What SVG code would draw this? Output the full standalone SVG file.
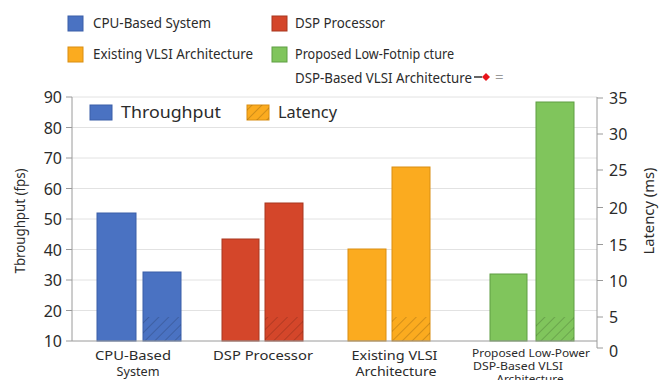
<svg xmlns="http://www.w3.org/2000/svg" width="666" height="380" viewBox="0 0 666 380">
<defs>
<style>
text{font-family:"Noto Sans","Open Sans","DejaVu Sans",sans-serif;fill:#2b2b2b}
.leg{font-size:15px}
.tick{font-size:16px}
.xl{font-size:13px}
.xs{font-size:10.5px}
.grid{stroke:#e2e2e2;stroke-width:1}
.ax{stroke:#9a9a9a;stroke-width:1;fill:none}
.blue{fill:#4a72c2;stroke:#3a5ea8}
.red{fill:#d4462a;stroke:#a8361f}
.orange{fill:#fbab1f;stroke:#d98e12}
.green{fill:#80c55c;stroke:#5f9e42}
</style>
<pattern id="hatch" width="7" height="7" patternUnits="userSpaceOnUse" patternTransform="rotate(45)">
<line x1="0" y1="0" x2="0" y2="7" stroke="#000" stroke-opacity="0.22" stroke-width="1.5"/>
</pattern>
</defs>
<rect width="666" height="380" fill="#fff"/>

<g id="legend-top">
<rect x="68" y="16" width="15" height="15" class="blue"/>
<text x="93" y="28" class="leg" textLength="118" lengthAdjust="spacingAndGlyphs">CPU-Based System</text>
<rect x="272" y="16" width="15" height="15" class="red"/>
<text x="295" y="28" class="leg" textLength="90" lengthAdjust="spacingAndGlyphs">DSP Processor</text>
<rect x="68" y="47" width="15" height="15" class="orange"/>
<text x="93" y="59" class="leg" textLength="160" lengthAdjust="spacingAndGlyphs">Existing VLSI Architecture</text>
<rect x="272" y="47" width="15" height="15" class="green"/>
<text x="295" y="59" class="leg" textLength="159" lengthAdjust="spacingAndGlyphs">Proposed Low-Fotnip cture</text>
<text x="295" y="83" class="leg" textLength="177" lengthAdjust="spacingAndGlyphs">DSP-Based VLSI Architecture</text>
<line x1="474" y1="77" x2="482" y2="77" stroke="#333" stroke-width="1.5"/>
<polygon points="486,73 490,77 486,81 482,77" fill="#e8141a"/>
<text x="495" y="82" class="leg" style="fill:#999">=</text>
</g>

<g id="grid">
<line x1="72" y1="97" x2="597" y2="97" class="grid"/>
<line x1="72" y1="127.5" x2="597" y2="127.5" class="grid"/>
<line x1="72" y1="158" x2="597" y2="158" class="grid"/>
<line x1="72" y1="188.5" x2="597" y2="188.5" class="grid"/>
<line x1="72" y1="219" x2="597" y2="219" class="grid"/>
<line x1="72" y1="249.5" x2="597" y2="249.5" class="grid"/>
<line x1="72" y1="280" x2="597" y2="280" class="grid"/>
<line x1="72" y1="310.5" x2="597" y2="310.5" class="grid"/>
</g>

<g id="bars">
<rect x="97" y="213" width="39" height="128" class="blue"/>
<rect x="143" y="272" width="38" height="69" class="blue"/>
<rect x="143" y="317" width="38" height="24" fill="url(#hatch)"/>
<rect x="222" y="239" width="37" height="102" class="red"/>
<rect x="265" y="203" width="38" height="138" class="red"/>
<rect x="265" y="317" width="38" height="24" fill="url(#hatch)"/>
<rect x="348" y="249" width="38" height="92" class="orange"/>
<rect x="392" y="167" width="38" height="174" class="orange"/>
<rect x="392" y="317" width="38" height="24" fill="url(#hatch)"/>
<rect x="490" y="274" width="37" height="67" class="green"/>
<rect x="536" y="102" width="38" height="239" class="green"/>
<rect x="536" y="317" width="38" height="24" fill="url(#hatch)"/>
</g>

<g id="axes">
<line x1="72" y1="97" x2="72" y2="341" class="ax"/>
<line x1="72" y1="341" x2="597" y2="341" class="ax"/>
<path d="M597 97 V348 H603" class="ax"/>
<path d="M66 97H72M66 127.5H72M66 158H72M66 188.5H72M66 219H72M66 249.5H72M66 280H72M66 310.5H72M66 341H72" class="ax"/>
<path d="M597 98H603M597 134H603M597 170H603M597 207.5H603M597 244.5H603M597 280.5H603M597 317H603" class="ax"/>
</g>

<g id="left-ticks" class="tick" text-anchor="end">
<text x="62" y="103">90</text>
<text x="62" y="133.5">80</text>
<text x="62" y="164">70</text>
<text x="62" y="194.5">60</text>
<text x="62" y="225">50</text>
<text x="62" y="255.5">40</text>
<text x="62" y="286">30</text>
<text x="62" y="316.5">20</text>
<text x="62" y="347">10</text>
</g>

<g id="right-ticks" class="tick">
<text x="609" y="104">35</text>
<text x="609" y="140">30</text>
<text x="609" y="176">25</text>
<text x="609" y="213.5">20</text>
<text x="609" y="250.5">15</text>
<text x="609" y="286.5">10</text>
<text x="609" y="323">5</text>
<text x="609" y="357">0</text>
</g>

<text transform="translate(25,221) rotate(-90)" text-anchor="middle" class="leg" textLength="105" lengthAdjust="spacingAndGlyphs">Tbroughput (fps)</text>
<text transform="translate(654,211) rotate(-90)" text-anchor="middle" class="leg" textLength="87" lengthAdjust="spacingAndGlyphs">Latency (ms)</text>

<g id="inner-legend">
<rect x="90" y="105" width="22" height="15" class="blue"/>
<text x="121" y="118" style="font-size:16px" textLength="100" lengthAdjust="spacingAndGlyphs">Throughput</text>
<rect x="247" y="105" width="22" height="15" class="orange"/>
<rect x="247" y="105" width="22" height="15" fill="url(#hatch)"/>
<text x="278" y="118" style="font-size:16px" textLength="59" lengthAdjust="spacingAndGlyphs">Latency</text>
</g>

<g id="x-labels" text-anchor="middle">
<text x="133" y="360" class="xl" textLength="76" lengthAdjust="spacingAndGlyphs">CPU-Based</text>
<text x="138" y="376" class="xl" textLength="43" lengthAdjust="spacingAndGlyphs">System</text>
<text x="263" y="360" class="xl" textLength="100" lengthAdjust="spacingAndGlyphs">DSP Processor</text>
<text x="394.5" y="360" class="xl" textLength="86" lengthAdjust="spacingAndGlyphs">Existing VLSI</text>
<text x="396" y="376" class="xl" textLength="81" lengthAdjust="spacingAndGlyphs">Architecture</text>
<text x="531" y="357" class="xs" textLength="118" lengthAdjust="spacingAndGlyphs">Proposed Low-Power</text>
<text x="518" y="370" class="xs" textLength="90" lengthAdjust="spacingAndGlyphs">DSP-Based VLSI</text>
<text x="530" y="383" class="xs" textLength="67" lengthAdjust="spacingAndGlyphs">Architecture</text>
</g>
</svg>
